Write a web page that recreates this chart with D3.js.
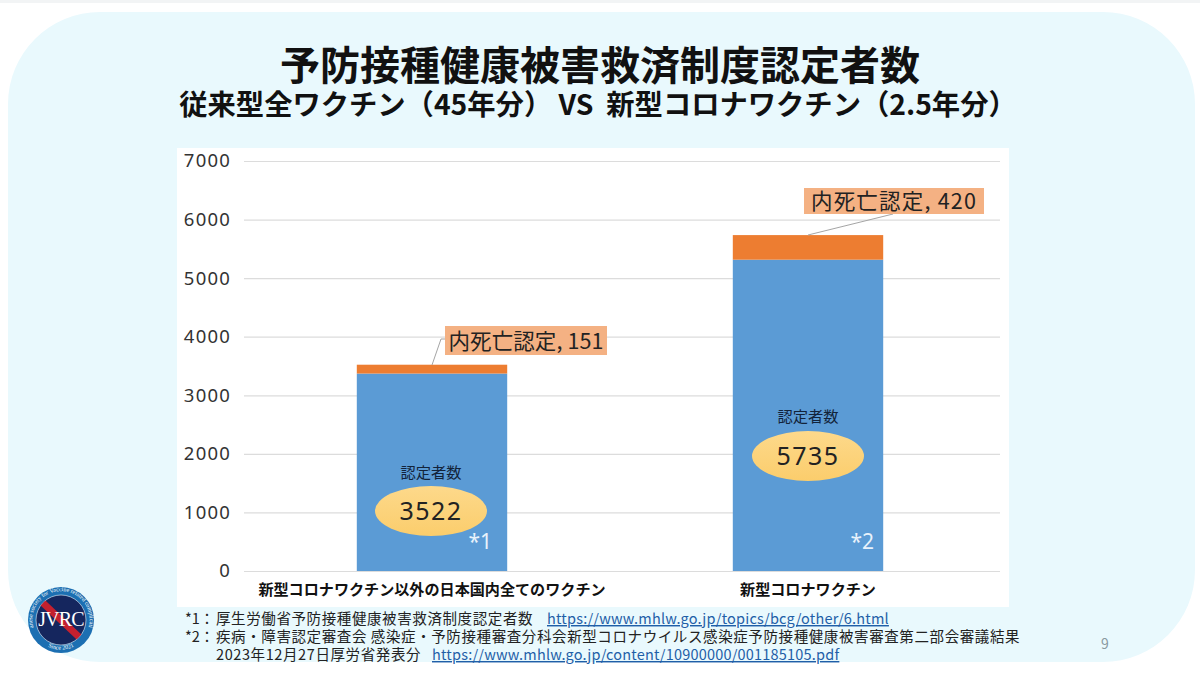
<!DOCTYPE html>
<html lang="ja"><head><meta charset="utf-8">
<script src="https://cdn.jsdelivr.net/npm/d3@7/dist/d3.min.js"></script>
<style>html,body{margin:0;padding:0;background:#fff;overflow:hidden}svg{display:block}text{font-family:"Noto Sans CJK JP","Noto Sans",sans-serif}</style>
</head><body><svg id="c" width="1200" height="675"></svg>
<script>
const categories = ["新型コロナワクチン以外の日本国内全てのワクチン", "新型コロナワクチン"];
const otherCertified = [3371, 5315];
const deathCertified = [151, 420];
const totals = [3522, 5735];
const notes = ["*1", "*2"];
const deathLabels = ["内死亡認定, 151", "内死亡認定, 420"];
const yTicks = [0, 1000, 2000, 3000, 4000, 5000, 6000, 7000];

const svg = d3.select("#c");
svg.append("rect").attr("width",1200).attr("height",675).attr("fill","#fff");
svg.append("rect").attr("width",1200).attr("height",3).attr("fill","#f2f4f5");
svg.append("rect").attr("x",8).attr("y",12).attr("width",1187).attr("height",650).attr("rx",92).attr("fill","#e9f9fd");

function t(x,y,s,size,o={}){
  return svg.append("text").attr("x",x).attr("y",y).text(s).attr("font-size",size)
    .attr("text-anchor",o.anchor||"middle").attr("font-weight",o.weight||400).attr("fill",o.fill||"#111");
}
t(600,80,"予防接種健康被害救済制度認定者数",40,{weight:700});
t(598,115,"従来型全ワクチン\uFF0845年分\uFF09 VS  新型コロナワクチン\uFF082.5年分\uFF09",28.3,{weight:700}).style("white-space","pre");

svg.append("rect").attr("x",177).attr("y",148).attr("width",832).attr("height",459).attr("fill","#fff");

const y = d3.scaleLinear().domain([0,7000]).range([571,161]);
const x = d3.scaleBand().domain(categories).range([244,996]).paddingInner(0.6).paddingOuter(0.3);

const yAxis = svg.append("g").attr("transform","translate(244,0)")
  .call(d3.axisLeft(y).tickValues(yTicks).tickSize(-756).tickPadding(13).tickFormat(d3.format("d")));
yAxis.select(".domain").remove();
yAxis.selectAll(".tick line").attr("stroke","#dcdcdc").attr("stroke-width",1.2);
yAxis.selectAll(".tick text").attr("font-size",18.5).attr("fill","#333").attr("letter-spacing",1.2).style("font-family","'Noto Sans',sans-serif");

svg.selectAll(".b").data(categories).join("rect").attr("x",d=>x(d)).attr("width",x.bandwidth())
  .attr("y",(d,i)=>y(otherCertified[i])).attr("height",(d,i)=>y(0)-y(otherCertified[i])).attr("fill","#5b9bd5");
svg.selectAll(".o").data(categories).join("rect").attr("x",d=>x(d)).attr("width",x.bandwidth())
  .attr("y",(d,i)=>y(otherCertified[i]+deathCertified[i])).attr("height",(d,i)=>y(otherCertified[i])-y(otherCertified[i]+deathCertified[i])).attr("fill","#ed7d31");

categories.forEach((c,i)=>{
  const cx = x(c)+x.bandwidth()/2;
  t(cx, 595, c, 15.1, {weight:700});
  const ecy = i===0 ? 511 : 456;
  const ex = cx-(i===0?1:0);
  const grad = "g"+i;
  const g = svg.append("defs").append("linearGradient").attr("id",grad).attr("x1",0).attr("x2",0).attr("y1",0).attr("y2",1);
  g.append("stop").attr("offset",0).attr("stop-color","#fdd98b");
  g.append("stop").attr("offset",1).attr("stop-color","#fbcd6c");
  svg.append("ellipse").attr("cx",ex).attr("cy",ecy).attr("rx",56).attr("ry",25).attr("fill",`url(#${grad})`);
  t(ex,ecy+9,totals[i],25,{fill:"#222"}).attr("letter-spacing",1.5).style("font-family","'Noto Sans',sans-serif");
  t(ex,i===0?478:422,"認定者数",15.3,{fill:"#12233a"});
  t(x(c)+x.bandwidth()-(i===0?27:21),549,notes[i],21,{fill:"#e8f2fb"}).style("font-family","'Noto Sans',sans-serif");
});

const lab = [{x:445,y:326,w:162,h:29,lx:[432,441,445],ly:[365,339,339],ls:0.1,fs:21.5},{x:804,y:188,w:180,h:26,lx:[808,893],ly:[235,214],ls:1.2,fs:21.5}];
lab.forEach((l,i)=>{
  svg.append("polyline").attr("points",l.lx.map((v,k)=>v+","+l.ly[k]).join(" ")).attr("fill","none").attr("stroke","#a5a5a5").attr("stroke-width",1);
  svg.append("rect").attr("x",l.x).attr("y",l.y).attr("width",l.w).attr("height",l.h).attr("fill","#f4b183");
  t(l.x+l.w/2,l.y+l.h/2+8,deathLabels[i],l.fs,{fill:"#222"}).attr("letter-spacing",l.ls);
});

const fs=14.5, fl=0.6;
t(185,624,"*1\uFF1A",fs,{anchor:"start",fill:"#222"});
t(216,624,"厚生労働省予防接種健康被害救済制度認定者数",fs,{anchor:"start",fill:"#222"}).attr("letter-spacing",fl);
t(547,624,"https://www.mhlw.go.jp/topics/bcg/other/6.html",fs,{anchor:"start",fill:"#1f5fa8"}).attr("text-decoration","underline").attr("letter-spacing",0.2);
t(185,642,"*2\uFF1A",fs,{anchor:"start",fill:"#222"});
t(216,642,"疾病・障害認定審査会 感染症・予防接種審査分科会新型コロナウイルス感染症予防接種健康被害審査第二部会審議結果",fs,{anchor:"start",fill:"#222"}).attr("letter-spacing",fl);
t(216,660,"2023年12月27日厚労省発表分",fs,{anchor:"start",fill:"#222"}).attr("letter-spacing",fl);
t(432,660,"https://www.mhlw.go.jp/content/10900000/001185105.pdf",fs,{anchor:"start",fill:"#1f5fa8"}).attr("text-decoration","underline").attr("letter-spacing",0.2);
t(1105,649,"9",14,{fill:"#8a9aa0"});

const lg=svg.append("g").attr("transform","translate(61,620)");
lg.append("circle").attr("r",33).attr("fill","#1c6fb2");
lg.append("circle").attr("r",25).attr("fill","#15265e").attr("stroke","#e8f4fb").attr("stroke-width",0.6);
lg.append("line").attr("x1",-18).attr("y1",-17).attr("x2",18).attr("y2",17).attr("stroke","#c4202f").attr("stroke-width",7);
lg.append("defs").append("path").attr("id","ringTop").attr("d","M-27.5,8 A28.7,28.7 0 1 1 27.5,8");
lg.append("defs").append("path").attr("id","ringBot").attr("d","M-22,20 A30,30 0 0 0 22,20");
lg.append("text").attr("font-size",6).attr("fill","#fff").style("font-family","'Liberation Serif',serif")
  .append("textPath").attr("href","#ringTop").attr("startOffset","50%").attr("text-anchor","middle").text("Japanese society for Vaccine related complications");
lg.append("text").attr("font-size",6).attr("fill","#fff").style("font-family","'Liberation Serif',serif")
  .append("textPath").attr("href","#ringBot").attr("startOffset","50%").attr("text-anchor","middle").text("Since 2021");
lg.append("text").attr("text-anchor","middle").attr("y",6).attr("font-size",20).attr("fill","#fff").attr("letter-spacing",-0.8).style("font-family","'Liberation Serif',serif").text("JVRC");
</script></body></html>
